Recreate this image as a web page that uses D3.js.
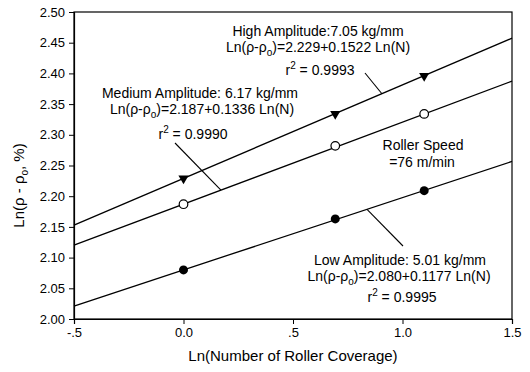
<!DOCTYPE html>
<html>
<head>
<meta charset="utf-8">
<script src="https://cdn.jsdelivr.net/npm/d3@7"></script>
<style>
  body { margin: 0; background: #fff; }
  svg { display: block; }
  text { font-family: "Liberation Sans", Arial, Helvetica, sans-serif; fill: #000; }
</style>
</head>
<body>
<svg id="chart" width="530" height="372"></svg>
<script>
// ---- data ----
const xCoverage = [0, 0.693, 1.099];            // Ln(N) for N = 1, 2, 3
const highValues = [2.229, 2.334, 2.396];
const mediumValues = [2.187, 2.282, 2.334];
const lowValues = [2.080, 2.163, 2.209];
const fitIntercepts = [2.229, 2.187, 2.080];     // high, medium, low
const fitSlopes = [0.1522, 0.1336, 0.1177];
const xTickValues = [-0.5, 0, 0.5, 1.0, 1.5];
const xTickLabels = ["-.5", "0.0", ".5", "1.0", "1.5"];
const yTickValues = [2.00, 2.05, 2.10, 2.15, 2.20, 2.25, 2.30, 2.35, 2.40, 2.45, 2.50];

const W = 530, H = 372;
const m = { left: 74, right: 18, top: 12, bottom: 53 };
const svg = d3.select("#chart");

const x = d3.scaleLinear().domain([-0.5, 1.5]).range([m.left, W - m.right]);
const y = d3.scaleLinear().domain([2.0, 2.5]).range([H - m.bottom, m.top]);

// frame
svg.append("rect")
  .attr("x", m.left).attr("y", m.top)
  .attr("width", W - m.left - m.right).attr("height", H - m.top - m.bottom)
  .attr("fill", "none").attr("stroke", "#000").attr("stroke-width", 1.2);

// axes
const xAxis = svg.append("g")
  .attr("transform", `translate(0,${H - m.bottom})`)
  .call(d3.axisBottom(x).tickValues(xTickValues)
        .tickFormat((d, i) => xTickLabels[i]).tickSize(5).tickPadding(4));
const yAxis = svg.append("g")
  .attr("transform", `translate(${m.left},0)`)
  .call(d3.axisLeft(y).tickValues(yTickValues)
        .tickFormat(d3.format(".2f")).tickSize(5).tickPadding(4));
[xAxis, yAxis].forEach(g => {
  g.select(".domain").attr("stroke", "#000").attr("stroke-width", 1.2);
  g.selectAll(".tick line").attr("stroke", "#000");
  g.selectAll(".tick text").attr("font-size", 13)
    .style("font-family", '"Liberation Sans", Arial, sans-serif').attr("fill", "#000");
});

// fit lines
const xDom = x.domain();
fitIntercepts.forEach((b, i) => {
  const s = fitSlopes[i];
  svg.append("line")
    .attr("x1", x(xDom[0])).attr("y1", y(b + s * xDom[0]))
    .attr("x2", x(xDom[1])).attr("y2", y(b + s * xDom[1]))
    .attr("stroke", "#000").attr("stroke-width", 1.3);
});

// markers
const tri = d3.symbol().type(d3.symbolTriangle).size(45);
svg.selectAll(".hi").data(xCoverage).enter().append("path")
  .attr("d", tri)
  .attr("transform", (d, i) => `translate(${x(d)},${y(highValues[i])}) rotate(180)`)
  .attr("fill", "#000");
svg.selectAll(".md").data(xCoverage).enter().append("circle")
  .attr("cx", d => x(d)).attr("cy", (d, i) => y(mediumValues[i]))
  .attr("r", 4.3).attr("fill", "#fff").attr("stroke", "#000").attr("stroke-width", 1.2);
svg.selectAll(".lo").data(xCoverage).enter().append("circle")
  .attr("cx", d => x(d)).attr("cy", (d, i) => y(lowValues[i]))
  .attr("r", 4.5).attr("fill", "#000");

// annotation helpers
function eqLine(cx, by, prefix, rest) {
  const t = svg.append("text").attr("x", cx).attr("y", by)
    .attr("text-anchor", "middle").attr("font-size", 14);
  t.append("tspan").text(prefix);
  t.append("tspan").attr("font-size", 10).attr("dy", 4).text("o");
  t.append("tspan").attr("dy", -4).text(rest);
  return t;
}
function r2Line(cx, by, val) {
  const t = svg.append("text").attr("x", cx).attr("y", by)
    .attr("text-anchor", "middle").attr("font-size", 14);
  t.append("tspan").text("r");
  t.append("tspan").attr("font-size", 10).attr("dy", -6).text("2");
  t.append("tspan").attr("dy", 6).text(" = " + val);
}
function plain(cx, by, s) {
  svg.append("text").attr("x", cx).attr("y", by)
    .attr("text-anchor", "middle").attr("font-size", 14).text(s);
}
function leader(x1, y1, x2, y2) {
  svg.append("line").attr("x1", x1).attr("y1", y1).attr("x2", x2).attr("y2", y2)
    .attr("stroke", "#000").attr("stroke-width", 1.1);
}

// high
plain(318, 36, "High Amplitude:7.05 kg/mm");
eqLine(318, 52, "Ln(ρ-ρ", ")=2.229+0.1522 Ln(N)");
r2Line(320, 75, "0.9993");
leader(365, 73, x(0.906), y(2.229 + 0.1522 * 0.906));

// medium
plain(200, 98, "Medium Amplitude: 6.17 kg/mm");
eqLine(202, 114, "Ln(ρ-ρ", ")=2.187+0.1336 Ln(N)");
r2Line(193, 139, "0.9990");
leader(175, 143, x(0.171), y(2.187 + 0.1336 * 0.171));

// roller speed
plain(423, 150, "Roller Speed");
plain(422, 167, "=76 m/min");

// low
plain(400, 265, "Low Amplitude: 5.01 kg/mm");
eqLine(399, 281, "Ln(ρ-ρ", ")=2.080+0.1177 Ln(N)");
r2Line(402, 302, "0.9995");
leader(x(0.838), y(2.080 + 0.1177 * 0.838), 403, 246);

// axis titles
svg.append("text").attr("x", x(0.5)).attr("y", 361)
  .attr("text-anchor", "middle").attr("font-size", 15)
  .text("Ln(Number of Roller Coverage)");
const yl = svg.append("text")
  .attr("transform", `translate(24,${(m.top + H - m.bottom) / 2 + 20}) rotate(-90)`)
  .attr("text-anchor", "middle").attr("font-size", 15);
yl.append("tspan").text("Ln(ρ - ρ");
yl.append("tspan").attr("font-size", 10).attr("dy", 4).text("o");
yl.append("tspan").attr("dy", -4).text(", %)");
</script>
</body>
</html>
